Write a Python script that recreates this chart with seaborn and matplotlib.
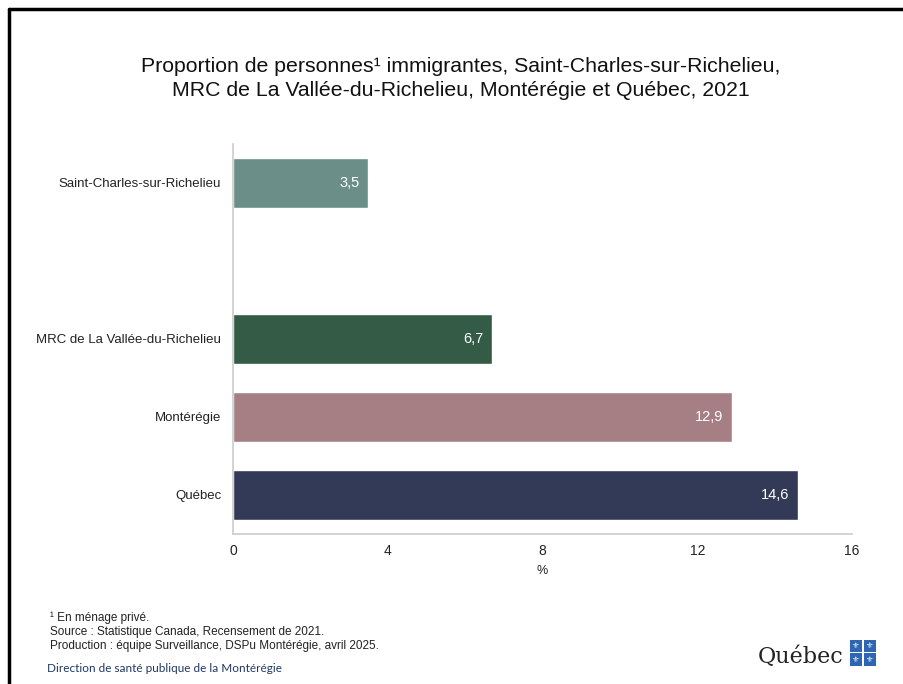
import matplotlib
matplotlib.use("Agg")
import matplotlib.pyplot as plt
import seaborn as sns
import pandas as pd
from matplotlib.patches import Rectangle
from matplotlib.lines import Line2D

categories = ["Saint-Charles-sur-Richelieu", "MRC de La Vallée-du-Richelieu", "Montérégie", "Québec"]
values = [3.5, 6.7, 12.9, 14.6]
colors = ["#6b8f88", "#335b46", "#a67f84", "#323a58"]
order = ["Saint-Charles-sur-Richelieu", " ", "MRC de La Vallée-du-Richelieu", "Montérégie", "Québec"]
xticks = [0, 4, 8, 12, 16]

title = ("Proportion de personnes¹ immigrantes, Saint-Charles-sur-Richelieu,\n"
         "MRC de La Vallée-du-Richelieu, Montérégie et Québec, 2021")
notes = ["¹ En ménage privé.",
         "Source : Statistique Canada, Recensement de 2021.",
         "Production : équipe Surveillance, DSPu Montérégie, avril 2025."]
direction = "Direction de santé publique de la Montérégie"

sns.set_theme(style="white")
plt.rcParams['font.family'] = ['Liberation Sans', 'DejaVu Sans']
narrow = ['Liberation Sans Narrow', 'Liberation Sans', 'DejaVu Sans']

df = pd.DataFrame({"cat": categories, "val": values})
pal = dict(zip(categories, colors))

fig = plt.figure(figsize=(9.04, 6.84), dpi=100)
ax = fig.add_axes([0.2577, 0.2193, 0.6848, 0.5702])
sns.barplot(data=df, y="cat", x="val", hue="cat", order=order, hue_order=categories,
            palette=pal, width=0.63, legend=False, ax=ax, saturation=1, dodge=False)

ax.set_xlim(0, 16)
ax.set_ylim(4.5, -0.5)
ax.set_xticks(xticks)
ax.set_xticklabels([str(t) for t in xticks], fontsize=10, family=narrow, color="#222222")
ax.set_ylabel("")
ax.set_xlabel("%", fontsize=9, family=narrow, color="#222222", labelpad=5)
ax.tick_params(axis="y", length=0, labelsize=9.5, labelcolor="#222222", pad=8.5)
ax.tick_params(axis="x", length=5, width=1, color="#cccccc", pad=2)
for s in ["top", "right"]:
    ax.spines[s].set_visible(False)
for s in ["left", "bottom"]:
    ax.spines[s].set_color("#cccccc")
    ax.spines[s].set_linewidth(1.2)

for cat, v in zip(categories, values):
    ax.text(v - 0.22, order.index(cat), f"{v:.1f}".replace(".", ","), ha="right", va="center",
            color="white", fontsize=10.5)

fig.text(0.51, 0.885, title, ha="center", va="center", fontsize=15.3, family=narrow,
         color="#111111", linespacing=1.35)

ys = [0.097, 0.076, 0.055]
for y, t in zip(ys, notes):
    fig.text(0.055, y, t, fontsize=8.5, family=narrow, color="#222222", va="center")
fig.text(0.052, 0.022, direction, fontsize=8.5, family=['Lato', 'DejaVu Sans'],
         color="#1f3864", va="center")

# Québec logo
fig.text(0.838, 0.040, "Québec", fontsize=16, family=['DejaVu Serif'], color="#222222",
         va="center", ha="left")
for dx in (0, 1):
    for dy in (0, 1):
        x0 = 0.940 + dx * 0.0155
        y0 = 0.027 + dy * 0.020
        fig.patches.append(Rectangle((x0, y0), 0.014, 0.018, transform=fig.transFigure,
                                     facecolor="#2f66b3", edgecolor="none"))
        fig.text(x0 + 0.007, y0 + 0.009, "⚜", fontsize=6, color="white",
                 ha="center", va="center", family=['DejaVu Sans'])

# frame lines (top and left)
fig.add_artist(Line2D([0.0105, 1.0], [0.987, 0.987], transform=fig.transFigure, color="black", lw=2.5))
fig.add_artist(Line2D([0.0105, 0.0105], [0.0, 0.987], transform=fig.transFigure, color="black", lw=2.5))

fig.savefig("out.png", dpi=100)
